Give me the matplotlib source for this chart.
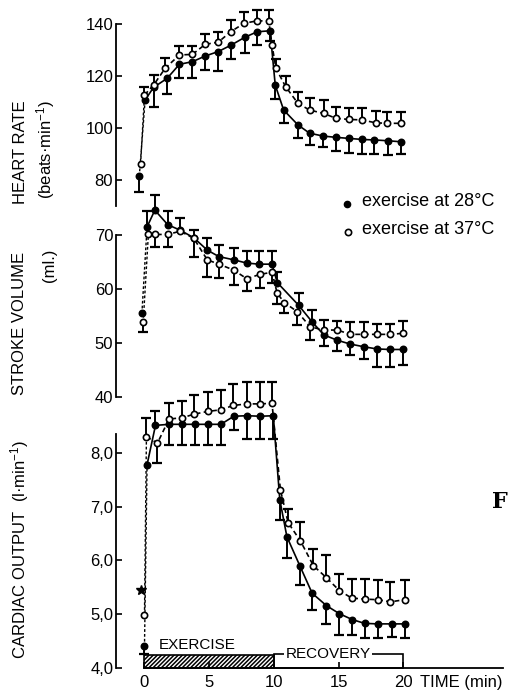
import numpy as np
import matplotlib
matplotlib.use("Agg")
import matplotlib.pyplot as plt
from matplotlib.patches import Rectangle

plt.rcParams["font.family"] = ["Liberation Sans", "DejaVu Sans"]
plt.rcParams["mathtext.default"] = "regular"
plt.rcParams["hatch.linewidth"] = 1.1

# ---------------- data ----------------
# heart rate, exercise at 28 C (filled)
hr_time_28 = [-0.4, 0.05, 0.7, 1.75, 2.7, 3.7, 4.7, 5.7, 6.7, 7.75, 8.7, 9.7,
              10.1, 10.75, 11.85, 12.75, 13.8, 14.8, 15.8, 16.8, 17.75, 18.8, 19.8]
hr_28 = [81.5, 110.8, 115.6, 119.1, 124.5, 125.5, 127.7, 129.4, 131.9, 134.9, 137.0, 137.4,
         116.5, 106.9, 101.2, 98.0, 96.9, 96.4, 96.0, 95.6, 95.4, 95.1, 94.7]
hr_28_up = [0] * 23
hr_28_down = [6.0, 0, 7.7, 6.0, 5.4, 6.4, 5.4, 7.4, 5.5, 6.2, 5.1, 4.0,
              5.5, 5.1, 5.1, 4.7, 4.4, 5.1, 5.8, 5.7, 5.5, 5.3, 4.8]

# heart rate, exercise at 37 C (open)
hr_time_37 = [-0.3, 0.0, 0.7, 1.6, 2.7, 3.7, 4.7, 5.7, 6.65, 7.7, 8.7, 9.6,
              9.85, 10.15, 10.9, 11.85, 12.75, 13.85, 14.8, 15.8, 16.8, 17.85, 18.75, 19.8]
hr_37 = [86.2, 112.7, 116.5, 123.0, 128.1, 128.3, 132.2, 133.0, 137.0, 140.3, 141.2, 141.2,
         131.9, 123.0, 115.9, 109.5, 106.9, 105.6, 103.7, 103.3, 103.1, 102.0, 101.8, 101.8]
hr_37_up = [0, 3.0, 3.8, 3.8, 3.5, 3.2, 3.8, 4.1, 4.7, 4.5, 4.2, 4.2,
            0, 3.5, 4.0, 4.5, 4.5, 5.1, 4.5, 4.5, 4.5, 4.5, 4.2, 4.3]
hr_37_down = [0] * 24

# stroke volume
sv_time_28 = [-0.2, 0.2, 0.8, 1.8, 2.75, 3.8, 4.85, 5.75, 6.9, 7.9, 8.85, 9.85,
              10.25, 11.9, 12.95, 13.85, 14.9, 15.9, 16.95, 17.95, 18.95, 20.0]
sv_28 = [55.5, 71.5, 74.6, 71.9, 70.9, 69.5, 67.2, 66.0, 65.4, 64.8, 64.6, 64.6,
         61.2, 57.0, 53.9, 51.5, 50.5, 49.8, 49.3, 48.9, 48.8, 48.8]
sv_28_up = [0, 3.0, 2.8, 2.6, 2.2, 1.5, 2.2, 2.2, 2.2, 2.3, 2.5, 2.5,
            2.0, 2.2, 2.3, 0, 0, 0, 0, 0, 0, 0]
sv_28_down = [0] * 15 + [2.0, 2.0, 2.0, 2.3, 3.3, 3.2, 2.9]

sv_time_37 = [-0.1, 0.3, 0.85, 1.8, 2.75, 3.8, 4.85, 5.75, 6.9, 7.9, 8.9, 9.85,
              10.25, 10.8, 11.8, 12.8, 13.85, 14.9, 15.9, 16.95, 17.95, 19.0, 20.0]
sv_37 = [53.8, 70.1, 70.1, 70.1, 70.7, 69.4, 65.4, 64.6, 63.5, 61.9, 62.7, 63.1,
         59.2, 57.5, 55.8, 53.0, 52.4, 52.4, 51.6, 51.6, 51.6, 51.6, 51.8]
sv_37_up = [0] * 16 + [1.9, 1.7, 2.2, 2.2, 1.9, 2.0, 2.2]
sv_37_down = [1.8, 0, 2.3, 2.3, 0, 3.4, 3.1, 2.6, 2.8, 2.3, 2.6, 2.0,
              2.0, 2.0, 2.5, 2.5, 0, 0, 0, 0, 0, 0, 0]

# cardiac output
co_time_28 = [0.0, 0.2, 0.85, 1.9, 2.9, 3.9, 4.9, 5.9, 6.9, 7.9, 8.95, 9.95,
              10.45, 11.0, 12.0, 12.95, 14.05, 15.05, 16.05, 17.0, 18.0, 19.1, 20.1]
co_28 = [4.40, 7.78, 8.51, 8.53, 8.53, 8.53, 8.53, 8.53, 8.68, 8.69, 8.68, 8.69,
         7.13, 6.44, 5.90, 5.39, 5.16, 5.01, 4.90, 4.83, 4.82, 4.82, 4.82]
co_28_up = [0, 0, 0.27] + [0] * 20
co_28_down = [0.14, 0, 0, 0.385, 0.385, 0.385, 0.385, 0.385, 0.25, 0.43, 0.43, 0.43,
              0.37, 0.39, 0.36, 0.32, 0.34, 0.40, 0.28, 0.27, 0.27, 0.25, 0.27]

co_time_37 = [0.0, 0.15, 1.0, 1.9, 2.9, 3.85, 4.9, 5.9, 6.85, 7.9, 8.9, 9.85,
              10.5, 11.1, 12.05, 13.05, 14.05, 15.05, 16.0, 17.05, 18.0, 19.0, 20.1]
co_37 = [4.99, 8.30, 8.18, 8.63, 8.65, 8.72, 8.77, 8.80, 8.88, 8.91, 8.91, 8.92,
         7.31, 6.70, 6.36, 5.90, 5.68, 5.44, 5.30, 5.28, 5.27, 5.23, 5.27]
co_37_up = [0, 0.34, 0, 0.30, 0.31, 0.36, 0.37, 0.37, 0.40, 0.40, 0.40, 0.40,
            0, 0.26, 0.35, 0.32, 0.42, 0.30, 0.36, 0.37, 0.37, 0.37, 0.36]
co_37_down = [0, 0, 0.36] + [0] * 20

co_star_time = [-0.3]
co_star = [5.45]

hr_ticks = [80, 100, 120, 140]
sv_ticks = [40, 50, 60, 70]
co_ticks = [4, 5, 6, 7, 8]
co_ticklabels = ["4,0", "5,0", "6,0", "7,0", "8,0"]
time_ticks = [0, 5, 10, 15, 20]
exercise_span = [0, 10]
recovery_span = [10, 20]


# ---------------- helpers ----------------
def bars(ax, t, v, err, sign):
    t, v, err = np.asarray(t), np.asarray(v), np.asarray(err)
    m = err > 0
    ends = v[m] + sign * err[m]
    ax.vlines(t[m], v[m], ends, color="k", lw=1.4, clip_on=False, zorder=2)
    ax.plot(t[m], ends, ls="none", marker="_", ms=7, mew=1.6, color="k",
            clip_on=False, zorder=2)


def series(ax, t, v, up, down, filled):
    t, v = np.asarray(t), np.asarray(v)
    ls = "-" if filled else (0, (3, 2))
    ax.plot(t[:2], v[:2], color="k", lw=1.0, ls=(0, (2, 1.5)), clip_on=False, zorder=3)
    ax.plot(t[1:], v[1:], color="k", lw=1.2, ls=ls, clip_on=False, zorder=3)
    bars(ax, t, v, up, 1)
    bars(ax, t, v, down, -1)
    ax.plot(t, v, ls="none", marker="o", ms=4.5, mfc="k" if filled else "white",
            mec="k", mew=1.2, clip_on=False, zorder=4)


def style(ax, ylim, ticks):
    ax.set_xlim(-2.2, 28.0)
    ax.set_ylim(*ylim)
    for s in ["top", "right", "bottom"]:
        ax.spines[s].set_visible(False)
    ax.spines["left"].set_linewidth(1.3)
    ax.set_yticks(ticks)
    ax.tick_params(axis="y", direction="in", length=4, width=1.2, labelsize=12, pad=2)
    ax.set_xticks([])
    ax.patch.set_visible(False)


# ---------------- figure ----------------
W, H = 510, 696
fig = plt.figure(figsize=(W / 100, H / 100), dpi=100)
x0, w = 116 / W, (507 - 116) / W

ax_hr = fig.add_axes([x0, 1 - 206 / H, w, 182 / H])
ax_sv = fig.add_axes([x0, 1 - 397 / H, w, 162 / H])
ax_co = fig.add_axes([x0, 1 - 668 / H, w, 234 / H])

style(ax_hr, (70, 140), hr_ticks)
style(ax_sv, (40, 70), sv_ticks)
style(ax_co, (4.0, 8.35), co_ticks)
ax_co.set_yticklabels(co_ticklabels)

series(ax_hr, hr_time_28, hr_28, hr_28_up, hr_28_down, True)
series(ax_hr, hr_time_37, hr_37, hr_37_up, hr_37_down, False)
series(ax_sv, sv_time_28, sv_28, sv_28_up, sv_28_down, True)
series(ax_sv, sv_time_37, sv_37, sv_37_up, sv_37_down, False)
series(ax_co, co_time_28, co_28, co_28_up, co_28_down, True)
series(ax_co, co_time_37, co_37, co_37_up, co_37_down, False)
ax_co.plot(co_star_time, co_star, ls="none", marker="*", ms=7, color="k", clip_on=False)

# time axis
ax_co.spines["bottom"].set_visible(True)
ax_co.spines["bottom"].set_linewidth(1.3)
ax_co.spines["bottom"].set_bounds(0, 27.7)
ax_co.set_xticks(time_ticks)
ax_co.tick_params(axis="x", direction="in", length=4, width=1.2, labelsize=12, pad=5)

# exercise / recovery bars
ax_co.add_patch(Rectangle((exercise_span[0], 4.0), exercise_span[1] - exercise_span[0], 0.24,
                          fill=False, hatch="////////", lw=1.2, clip_on=False))
ax_co.add_patch(Rectangle((recovery_span[0], 4.0), recovery_span[1] - recovery_span[0], 0.26,
                          fill=False, lw=1.2, clip_on=False))
ax_co.text(1.1, 4.43, "EXERCISE", fontsize=11, ha="left", va="center")
ax_co.text(14.2, 4.26, "RECOVERY", fontsize=11, ha="center", va="center",
           bbox=dict(facecolor="white", edgecolor="none", pad=1))
fig.text(420 / W, 1 - 683 / H, "TIME (min)", fontsize=12, ha="left", va="center")

# axis titles
fig.text(21 / W, 1 - 152 / H, "HEART RATE", rotation=90, fontsize=12, ha="center", va="center")
fig.text(46 / W, 1 - 150 / H, "(beats·min$^{-1}$)", rotation=90, fontsize=12,
         ha="center", va="center")
fig.text(20 / W, 1 - 323 / H, "STROKE VOLUME", rotation=90, fontsize=12, ha="center", va="center")
fig.text(49 / W, 1 - 265 / H, "(ml.)", rotation=90, fontsize=12, ha="center", va="center")
fig.text(20 / W, 1 - 550 / H, "CARDIAC OUTPUT  (l·min$^{-1}$)", rotation=90, fontsize=12,
         ha="center", va="center")

# legend
lg = fig.add_axes([0, 0, 1, 1])
lg.set_xlim(0, W)
lg.set_ylim(H, 0)
lg.axis("off")
lg.plot([347], [204], ls="none", marker="o", ms=4.5, mfc="k", mec="k")
lg.plot([348], [232], ls="none", marker="o", ms=4.5, mfc="white", mec="k", mew=1.2)
lg.text(362, 202, "exercise at 28°C", fontsize=13, ha="left", va="center")
lg.text(362, 230, "exercise at 37°C", fontsize=13, ha="left", va="center")

# caption letter at the page edge
fig.text(492 / W, 1 - 502 / H, "F", fontsize=16, family="DejaVu Serif",
         fontweight="bold", ha="left", va="center")

fig.savefig("out.png", dpi=100)
